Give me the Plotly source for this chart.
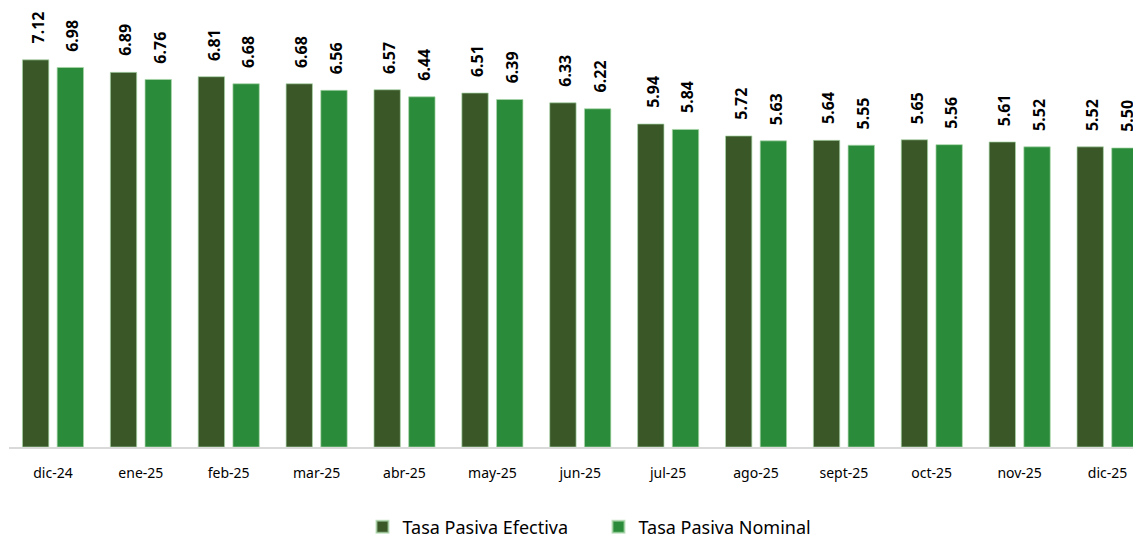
import plotly.graph_objects as go

meses = ["dic-24", "ene-25", "feb-25", "mar-25", "abr-25", "may-25", "jun-25",
         "jul-25", "ago-25", "sept-25", "oct-25", "nov-25", "dic-25"]
tasa_efectiva = [7.12, 6.89, 6.81, 6.68, 6.57, 6.51, 6.33, 5.94, 5.72, 5.64, 5.65, 5.61, 5.52]
tasa_nominal = [6.98, 6.76, 6.68, 6.56, 6.44, 6.39, 6.22, 5.84, 5.63, 5.55, 5.56, 5.52, 5.50]

COLOR_EFECTIVA = "#3a5727"
COLOR_NOMINAL = "#2a8b3a"
BORDE = "rgba(170,215,170,0.7)"

BAR_W = 0.30
OFF_EFECTIVA = -0.347
OFF_NOMINAL = 0.048

fig = go.Figure()
fig.add_trace(go.Bar(
    x=meses, y=tasa_efectiva, name="Tasa Pasiva Efectiva",
    width=BAR_W, offset=OFF_EFECTIVA,
    marker=dict(color=COLOR_EFECTIVA, line=dict(color=BORDE, width=1)),
))
fig.add_trace(go.Bar(
    x=meses, y=tasa_nominal, name="Tasa Pasiva Nominal",
    width=BAR_W, offset=OFF_NOMINAL,
    marker=dict(color=COLOR_NOMINAL, line=dict(color=BORDE, width=1)),
))

# value labels, rotated, above each bar
px_per_cat = 87.9
annotations = []
for serie, off in ((tasa_efectiva, OFF_EFECTIVA), (tasa_nominal, OFF_NOMINAL)):
    shift = (off + BAR_W / 2) * px_per_cat
    for mes, v in zip(meses, serie):
        annotations.append(dict(
            x=mes, y=v, xref="x", yref="y", text=f"<b>{v:.2f}</b>",
            textangle=-90, showarrow=False, xanchor="center", yanchor="bottom",
            xshift=shift + 2, yshift=14,
            font=dict(family="Noto Sans", size=16, color="#000000"),
        ))

fig.update_layout(
    width=1133, height=539,
    margin=dict(l=9, r=0, t=12, b=92, autoexpand=False),
    paper_bgcolor="white", plot_bgcolor="white",
    barmode="group",
    showlegend=True,
    legend=dict(
        orientation="h", x=0.3145, xanchor="left", y=-0.184, yanchor="middle",
        font=dict(family="Noto Sans", size=18, color="#000000"),
        entrywidth=191, entrywidthmode="pixels",
        itemsizing="constant",
    ),
    annotations=annotations,
    xaxis=dict(
        type="category", range=[-0.5, 12.29],
        showline=True, linecolor="#d9d9d9", linewidth=2,
        ticks="", showgrid=False, ticklabelstandoff=12,
        tickfont=dict(family="Noto Sans", size=14, color="#000000"),
    ),
    yaxis=dict(
        range=[0, 8], visible=False, showgrid=False, zeroline=False,
    ),
)

fig.write_html("out.html")
